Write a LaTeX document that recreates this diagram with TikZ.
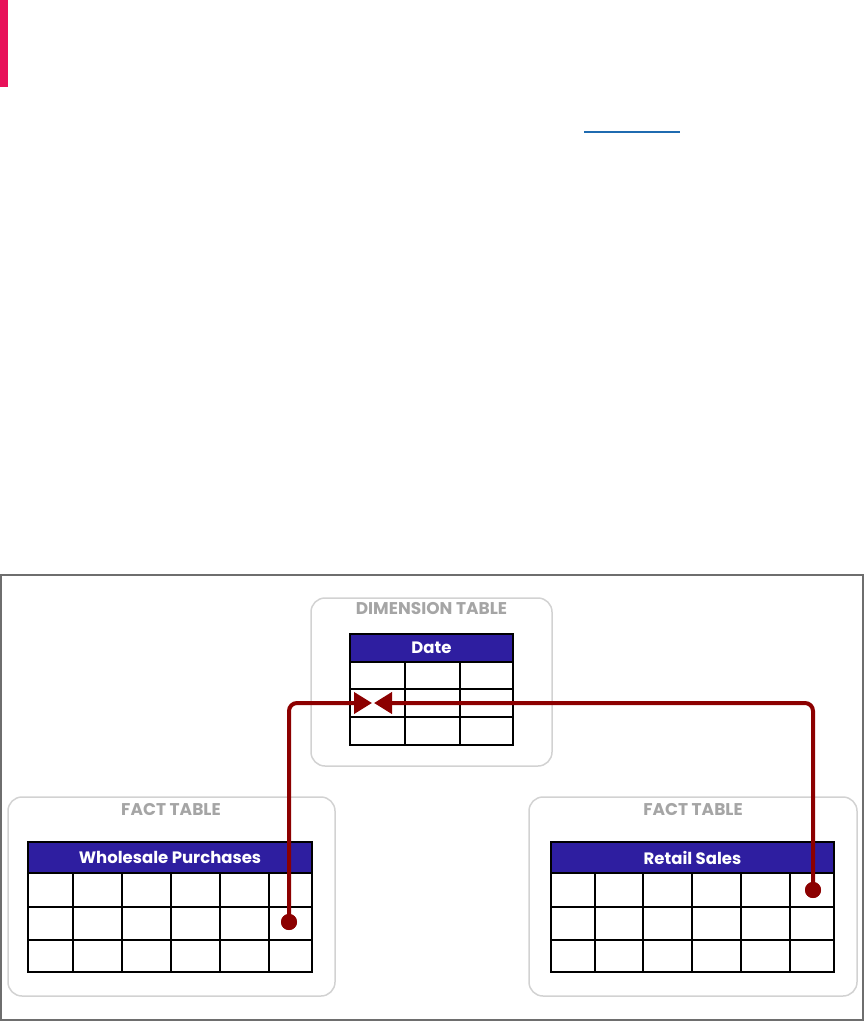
\documentclass[tikz,border=0pt]{standalone}
\usepackage{fontspec}
\newfontfamily\hfont{Poppins}
\usetikzlibrary{arrows.meta}
\definecolor{pinkbar}{RGB}{232,17,90}
\definecolor{linkblue}{RGB}{31,107,176}
\definecolor{framegray}{RGB}{110,110,110}
\definecolor{boxgray}{RGB}{210,210,210}
\definecolor{labelgray}{RGB}{165,165,165}
\definecolor{hdrblue}{RGB}{46,30,160}
\definecolor{connred}{RGB}{140,0,0}
\tikzset{
  groupbox/.style={draw=boxgray, line width=1.5pt, rounded corners=14pt},
  grouplabel/.style={text=labelgray, font=\hfont\bfseries\fontsize{17}{18}\selectfont, inner sep=0pt},
  tablehead/.style={draw=black, line width=1.3pt, fill=hdrblue, text=white, inner sep=0pt,
    font=\hfont\bfseries\fontsize{16.5}{18}\selectfont},
  gridline/.style={draw=black, line width=1.3pt},
  connector/.style={draw=connred, line width=4pt, rounded corners=8pt},
  enddot/.style={circle, fill=connred, inner sep=0pt, minimum size=16pt},
}
\begin{document}
\begin{tikzpicture}[x=1pt,y=-1pt]
\useasboundingbox (0,0) rectangle (865,1022);
% page fragments
\fill[pinkbar] (0,0) rectangle (8,87);
\draw[linkblue, line width=1.4pt] (584,132) -- (680,132);
% frame
\draw[framegray, line width=2pt] (1,575) rectangle (863,1020);
% group boxes
\draw[groupbox] (311,598) rectangle (552,766);
\draw[groupbox] (8,797) rectangle (335,996);
\draw[groupbox] (529,797) rectangle (857,996);
\node[grouplabel] (dimlabel) at (431.5,609) {DIMENSION TABLE};
\node[grouplabel] (factlabelL) at (171,809) {FACT TABLE};
\node[grouplabel] (factlabelR) at (693,809) {FACT TABLE};
% Date table
\node[tablehead, minimum width=163pt, minimum height=28pt] (date) at (431.5,648) {Date};
\draw[gridline] (350,662) rectangle (513,745);
\foreach \y in {689,717} \draw[gridline] (350,\y) -- (513,\y);
\foreach \x in {405,460} \draw[gridline] (\x,662) -- (\x,745);
% Wholesale table
\node[tablehead, minimum width=284pt, minimum height=31pt] (wholesale) at (170,857.5) {Wholesale Purchases};
\draw[gridline] (28,873) rectangle (312,972);
\foreach \y in {907,940} \draw[gridline] (28,\y) -- (312,\y);
\foreach \x in {73,122,171,220,269} \draw[gridline] (\x,873) -- (\x,972);
% Retail table
\node[tablehead, minimum width=283pt, minimum height=31pt] (retail) at (692.5,857.5) {Retail Sales};
\draw[gridline] (551,873) rectangle (834,972);
\foreach \y in {907,940} \draw[gridline] (551,\y) -- (834,\y);
\foreach \x in {595,643,692,741,790} \draw[gridline] (\x,873) -- (\x,972);
% connectors
\coordinate (tipL) at (372,703);
\coordinate (tipR) at (374,703);
\node[enddot] (wdot) at (289,922) {};
\node[enddot] (rdot) at (813,890) {};
\draw[connector, -{Triangle[length=18pt,width=21pt]}] (wdot.center) |- (tipL);
\draw[connector, -{Triangle[length=18pt,width=21pt]}] (rdot.center) |- (tipR);
\node[enddot] at (wdot.center) {};
\node[enddot] at (rdot.center) {};
\end{tikzpicture}
\end{document}
